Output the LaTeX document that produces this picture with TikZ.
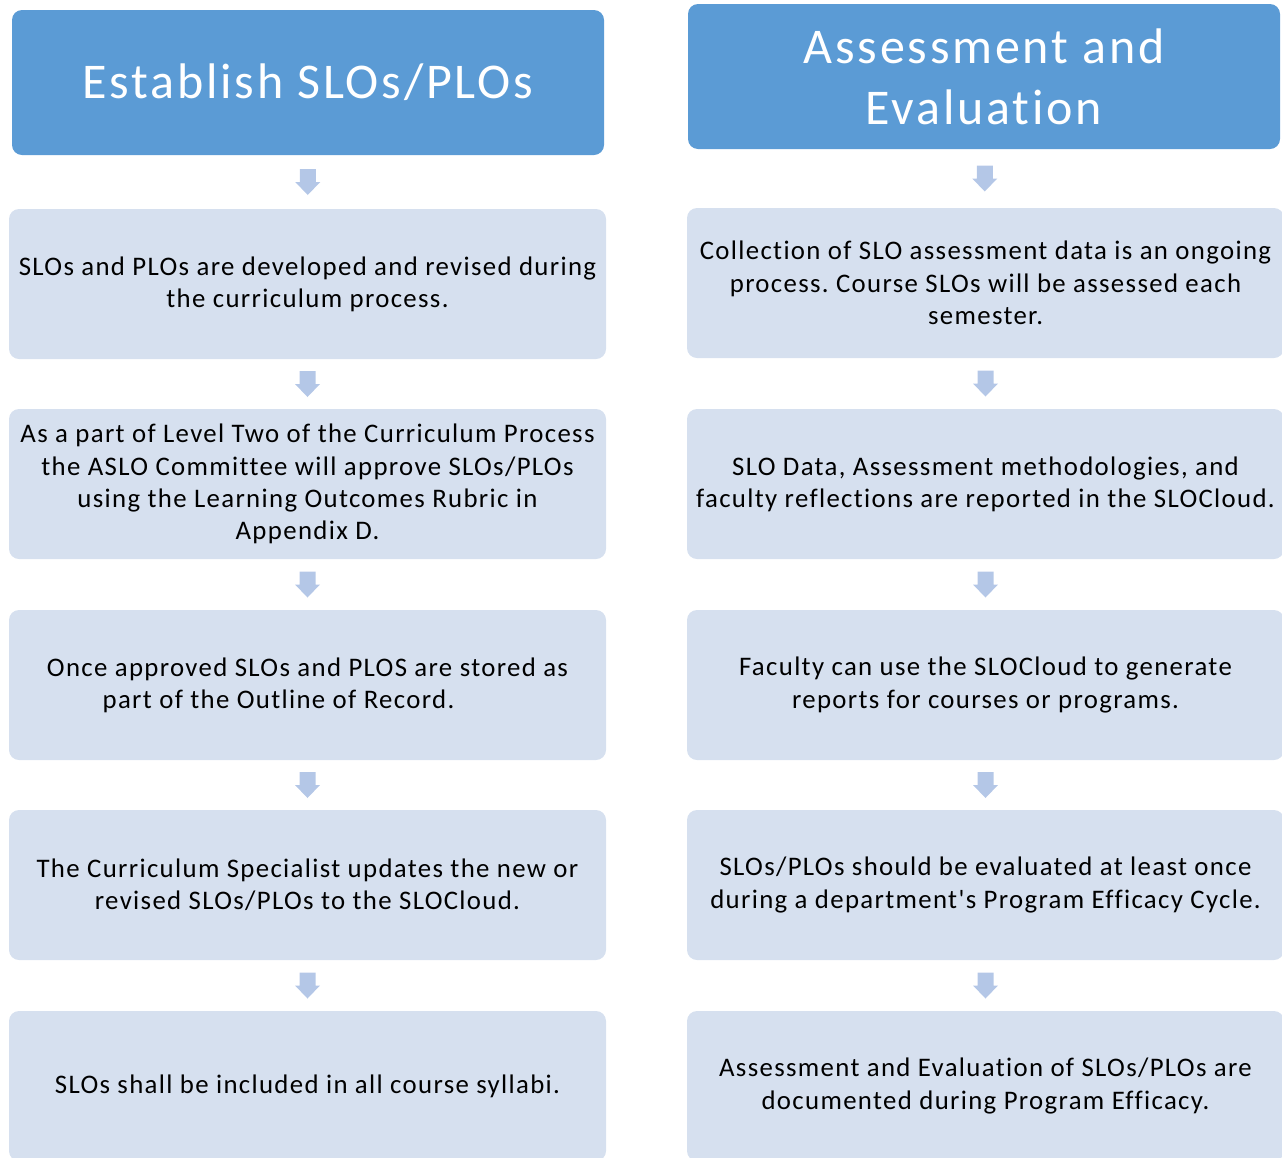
\documentclass[tikz,border=0pt]{standalone}
\usepackage{fontspec}
\setmainfont{Carlito}[Ligatures={NoCommon,TeXOff},LetterSpace=5]
\newfontfamily\headfont{Carlito}[Ligatures={NoCommon,TeXOff},LetterSpace=5.6]
\usetikzlibrary{calc}
\frenchspacing
\definecolor{headblue}{HTML}{5B9BD5}
\definecolor{boxblue}{HTML}{D6E0EF}
\definecolor{arrblue}{HTML}{B4C7E7}
\tikzset{
  header/.style={fill=headblue, rounded corners=10pt, minimum width=592pt, minimum height=145pt,
    text=white, align=center, inner sep=0pt, font=\headfont\fontsize{50}{61}\selectfont},
  stepbox/.style={fill=boxblue, rounded corners=10pt, minimum width=597pt, minimum height=150pt,
    text=black, align=center, inner sep=0pt, font=\fontsize{26.8}{32.3}\selectfont},
  downarr/.pic={\fill[arrblue] (-8,-13) -- (8,-13) -- (8,0) -- (12.5,0) -- (0,13) -- (-12.5,0) -- (-8,0) -- cycle;}
}
\begin{document}
\begin{tikzpicture}[x=1pt,y=-1pt]
\useasboundingbox (0,0) rectangle (1282,1157);
\begin{scope}
\clip (0,0) rectangle (1282,1157);
% left column
\node[header] (h1) at (308,82.5) {Establish SLOs/PLOs};
\node[stepbox] (l1) at (307.5,284) {SLOs and PLOs are developed and revised during\\the curriculum process.};
\node[stepbox] (l2) at (307.5,484) {As a part of Level Two of the Curriculum Process\\the ASLO Committee will approve SLOs/PLOs\\using the Learning Outcomes Rubric in\\Appendix D.};
\node[stepbox] (l3) at (307.5,685) {Once approved SLOs and PLOS are stored as\\part of the Outline of Record.\hspace*{58pt}};
\node[stepbox] (l4) at (307.5,885) {The Curriculum Specialist updates the new or\\revised SLOs/PLOs to the SLOCloud.};
\node[stepbox] (l5) at (307.5,1086) {SLOs shall be included in all course syllabi.};
% right column
\node[header] (h2) at (984,76.5) {Assessment and\\Evaluation};
\node[stepbox] (r1) at (985.5,283) {Collection of SLO assessment data is an ongoing\\process. Course SLOs will be assessed each\\semester.};
\node[stepbox] (r2) at (985.5,484) {SLO Data, Assessment methodologies, and\\faculty reflections are reported in the SLOCloud.};
\node[stepbox] (r3) at (985.5,685) {Faculty can use the SLOCloud to generate\\reports for courses or programs.};
\node[stepbox] (r4) at (985.5,885) {SLOs/PLOs should be evaluated at least once\\during a department's Program Efficacy Cycle.};
\node[stepbox] (r5) at (985.5,1086) {Assessment and Evaluation of SLOs/PLOs are\\documented during Program Efficacy.};
% connectors
\foreach \a/\b in {h1/l1,l1/l2,l2/l3,l3/l4,l4/l5,h2/r1,r1/r2,r2/r3,r3/r4,r4/r5}{
  \pic at ($(\a.south)!0.5!(\b.north)$) {downarr};
}
\end{scope}
\end{tikzpicture}
\end{document}
